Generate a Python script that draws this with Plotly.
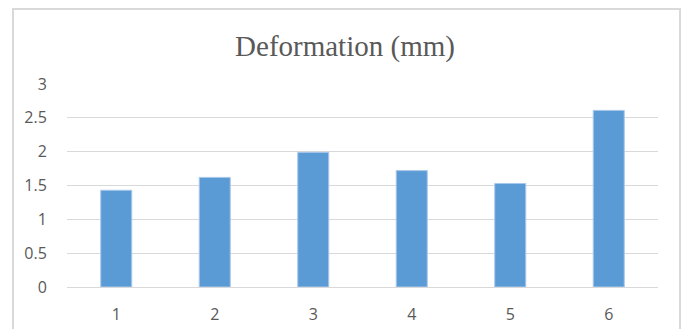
import plotly.graph_objects as go

# Deformation per specimen
categories = ["1", "2", "3", "4", "5", "6"]
deformation_mm = [1.43, 1.62, 1.99, 1.72, 1.53, 2.61]
y_ticks = [0, 0.5, 1, 1.5, 2, 2.5, 3]
y_tick_labels = ["0", "0.5", "1", "1.5", "2", "2.5", "3"]

W, H = 683, 329
left, right, top, bottom = 67, 25, 84, 42
pw, ph = W - left - right, H - top - bottom

fig = go.Figure(
    go.Bar(
        x=categories,
        y=deformation_mm,
        marker=dict(color="#5B9BD5", line=dict(color="#A8C8EA", width=1)),
        hoverinfo="x+y",
    )
)

# outer chart frame (extends below the visible window)
fx0 = (13 - left) / pw
fx1 = (680 - left) / pw
fy1 = (H - bottom - 9) / ph
fy0 = (H - bottom - 340) / ph
fig.add_shape(
    type="rect", xref="paper", yref="paper",
    x0=fx0, x1=fx1, y0=fy0, y1=fy1,
    line=dict(color="#D9D9D9", width=2), fillcolor="rgba(0,0,0,0)",
    layer="below",
)

tick_font = dict(family="Open Sans", size=16, color="#595959")

fig.update_layout(
    width=W, height=H,
    margin=dict(l=left, r=right, t=top, b=bottom, pad=0, autoexpand=False),
    paper_bgcolor="white", plot_bgcolor="white",
    bargap=0.685,
    showlegend=False,
    title=dict(
        text="Deformation (mm)",
        font=dict(family="Liberation Serif", size=29, color="#595959"),
        x=345 / W, xanchor="center", xref="container",
        y=1 - 46 / H, yanchor="middle", yref="container",
    ),
    font=tick_font,
    xaxis=dict(
        type="category", automargin=False,
        showgrid=False, showline=True, linecolor="#D9D9D9", linewidth=1,
        ticks="outside", ticklen=13, tickcolor="rgba(0,0,0,0)",
        tickfont=tick_font,
    ),
    yaxis=dict(
        range=[0, 3], tickvals=y_ticks, ticktext=y_tick_labels, automargin=False,
        showgrid=True, gridcolor="#D9D9D9", gridwidth=1,
        zeroline=True, zerolinecolor="#D9D9D9", zerolinewidth=1,
        showline=False,
        ticks="outside", ticklen=16, tickcolor="rgba(0,0,0,0)",
        tickfont=tick_font,
    ),
)

fig.write_html("out.html", config={"displayModeBar": False})
